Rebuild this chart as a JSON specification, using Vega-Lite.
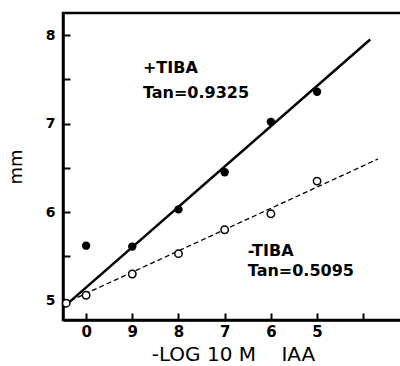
{
  "$schema": "https://vega.github.io/schema/vega-lite/v6.json",
  "width": 340,
  "height": 307,
  "autosize": "none",
  "padding": {"left": 63, "top": 13, "right": 0, "bottom": 46},
  "background": "white",
  "config": {
    "view": {"stroke": "black", "strokeWidth": 2.5},
    "font": "DejaVu Sans"
  },
  "datasets": {
    "points": [
      {"pos": 0, "mm": 5.62, "treatment": "+TIBA"},
      {"pos": 1, "mm": 5.61, "treatment": "+TIBA"},
      {"pos": 2, "mm": 6.03, "treatment": "+TIBA"},
      {"pos": 3, "mm": 6.45, "treatment": "+TIBA"},
      {"pos": 4, "mm": 7.02, "treatment": "+TIBA"},
      {"pos": 5, "mm": 7.36, "treatment": "+TIBA"},
      {"pos": -0.43, "mm": 4.97, "treatment": "-TIBA"},
      {"pos": 0, "mm": 5.06, "treatment": "-TIBA"},
      {"pos": 1, "mm": 5.3, "treatment": "-TIBA"},
      {"pos": 2, "mm": 5.53, "treatment": "-TIBA"},
      {"pos": 3, "mm": 5.8, "treatment": "-TIBA"},
      {"pos": 4, "mm": 5.98, "treatment": "-TIBA"},
      {"pos": 5, "mm": 6.35, "treatment": "-TIBA"}
    ],
    "lines": [
      {"pos": -0.5, "mm": 4.92, "treatment": "+TIBA"},
      {"pos": 6.15, "mm": 7.95, "treatment": "+TIBA"},
      {"pos": -0.5, "mm": 4.96, "treatment": "-TIBA"},
      {"pos": 6.32, "mm": 6.6, "treatment": "-TIBA"}
    ],
    "notes": [
      {"pos": 1.23, "mm": 7.63, "text": "+TIBA"},
      {"pos": 1.23, "mm": 7.35, "text": "Tan=0.9325"},
      {"pos": 3.5, "mm": 5.555, "text": "-TIBA"},
      {"pos": 3.5, "mm": 5.33, "text": "Tan=0.5095"}
    ]
  },
  "encoding": {
    "x": {
      "field": "pos",
      "type": "quantitative",
      "scale": {"domain": [-0.5, 6.86], "nice": false, "zero": false},
      "axis": {
        "values": [0, 1, 2, 3, 4, 5, 6],
        "labelExpr": "['0','9','8','7','6','5',''][datum.value]",
        "grid": false,
        "domainColor": "black",
        "domainWidth": 2.5,
        "tickColor": "black",
        "tickWidth": 2,
        "tickSize": -7,
        "labelPadding": 11,
        "labelFont": "DejaVu Sans",
        "labelFontWeight": "bold",
        "labelFontSize": 15,
        "labelColor": "black",
        "title": "-LOG 10 M\u00a0\u00a0\u00a0\u00a0IAA",
        "titleFont": "DejaVu Sans",
        "titleFontWeight": "normal",
        "titleFontSize": 20,
        "titleColor": "black",
        "titlePadding": 5
      }
    },
    "y": {
      "field": "mm",
      "type": "quantitative",
      "scale": {"domain": [4.78, 8.25], "nice": false, "zero": false},
      "axis": {
        "values": [5, 5.5, 6, 6.5, 7, 7.5, 8],
        "labelExpr": "datum.value % 1 == 0 ? format(datum.value, 'd') : ''",
        "grid": false,
        "domainColor": "black",
        "domainWidth": 2.5,
        "tickColor": "black",
        "tickWidth": 2,
        "tickSize": -7,
        "labelPadding": 15,
        "labelFont": "DejaVu Sans",
        "labelFontWeight": "bold",
        "labelFontSize": 14,
        "labelColor": "black",
        "title": "mm",
        "titleFont": "DejaVu Sans",
        "titleFontWeight": "normal",
        "titleFontSize": 18,
        "titleColor": "black",
        "titlePadding": 20
      }
    }
  },
  "layer": [
    {
      "data": {"name": "lines"},
      "transform": [{"filter": "datum.treatment == '+TIBA'"}],
      "mark": {"type": "line", "color": "black", "strokeWidth": 2.5}
    },
    {
      "data": {"name": "lines"},
      "transform": [{"filter": "datum.treatment == '-TIBA'"}],
      "mark": {"type": "line", "color": "black", "strokeWidth": 1.3, "strokeDash": [5, 3]}
    },
    {
      "data": {"name": "points"},
      "transform": [{"filter": "datum.treatment == '+TIBA'"}],
      "mark": {"type": "point", "shape": "circle", "filled": true, "color": "black", "size": 70, "opacity": 1}
    },
    {
      "data": {"name": "points"},
      "transform": [{"filter": "datum.treatment == '-TIBA'"}],
      "mark": {"type": "point", "shape": "circle", "filled": true, "fill": "white", "stroke": "black", "strokeWidth": 1.5, "size": 55, "opacity": 1}
    },
    {
      "data": {"name": "notes"},
      "mark": {"type": "text", "align": "left", "baseline": "middle", "font": "DejaVu Sans", "fontWeight": "bold", "fontSize": 16, "color": "black"},
      "encoding": {"text": {"field": "text"}}
    }
  ]
}
